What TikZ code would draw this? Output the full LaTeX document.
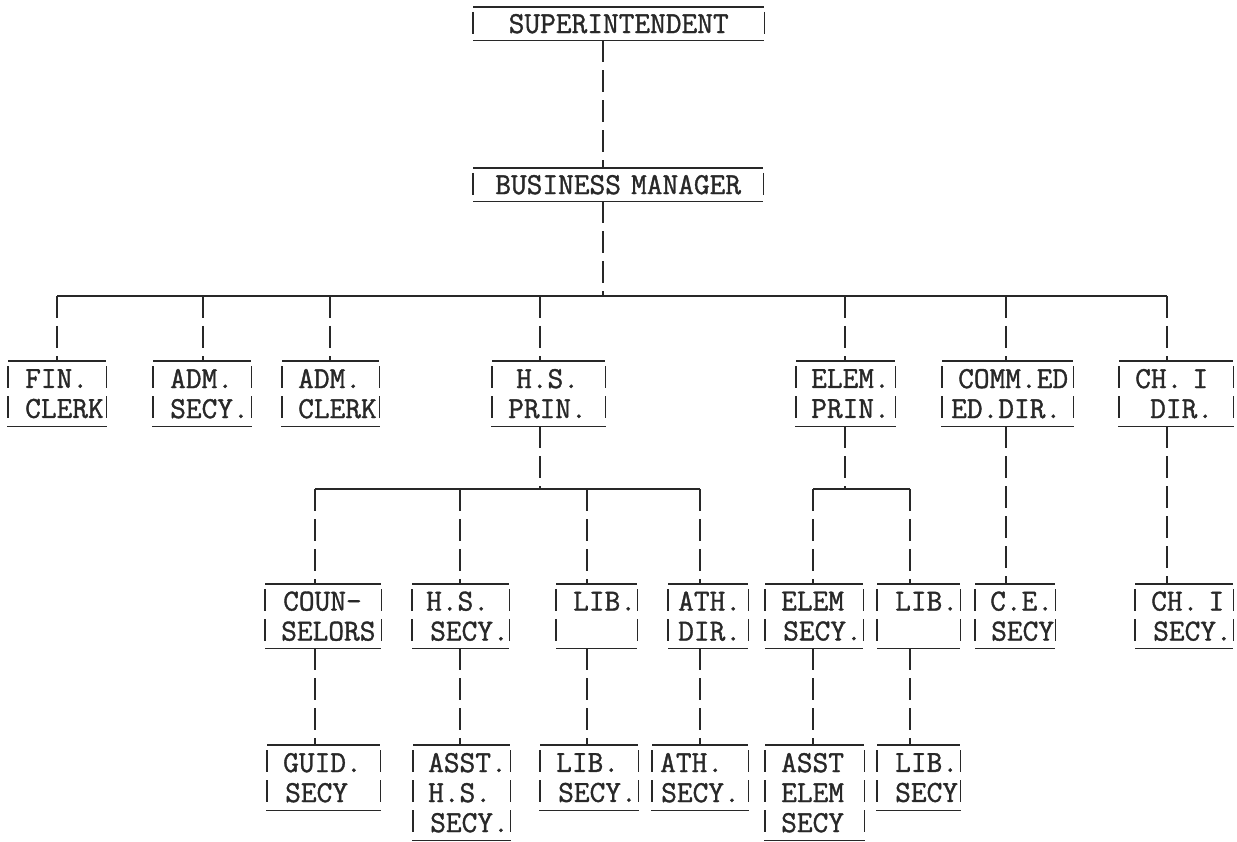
\documentclass[tikz,border=0pt]{standalone}
\usepackage{fontspec}
\newfontfamily\twfont{Latin Modern Mono}[FakeBold=1.2]
\definecolor{ink}{RGB}{40,40,40}
\newcommand\tind[1]{\hspace*{#1pt}}
\tikzset{
  hl/.style={draw=ink, solid, line width=1.5pt},
  vl/.style={draw=ink, line width=1.5pt, dash pattern=on 22pt off 8pt, dash phase=25pt},
  conn/.style={draw=ink, line width=1.5pt, dash pattern=on 22pt off 8pt},
  bx/.style={anchor=north west, inner sep=0pt, align=left, text=ink,
    font=\twfont\fontsize{30.5pt}{30pt}\selectfont,
    append after command={
      (\tikzlastnode.north west) edge[hl] (\tikzlastnode.north east)
      (\tikzlastnode.south west) edge[hl] (\tikzlastnode.south east)
      (\tikzlastnode.north west) edge[vl] (\tikzlastnode.south west)
      (\tikzlastnode.north east) edge[vl] (\tikzlastnode.south east)}},
  bxc/.style={bx, align=center},
}
\begin{document}
\begin{tikzpicture}[x=1pt,y=-1pt]
\fill[white] (0,0) rectangle (1237,842);
\useasboundingbox (0,0) rectangle (1237,842);
% level 1
\node[bxc, minimum width=291pt, minimum height=33pt, text width=291pt] (sup) at (473,7) {SUPERINTENDENT};
\node[bxc, minimum width=290pt, minimum height=33pt, text width=290pt] (bm) at (473,168) {BUSINESS~MANAGER};
% level 2
\node[bx, minimum width=98pt, minimum height=65pt, text width=98pt] (fin) at (8,361) {\tind{17}FIN.\\\tind{17}CLERK};
\node[bx, minimum width=98pt, minimum height=65pt, text width=98pt] (adms) at (153,361) {\tind{17}ADM.\\\tind{17}SECY.};
\node[bx, minimum width=97pt, minimum height=65pt, text width=97pt] (admc) at (282,361) {\tind{16}ADM.\\\tind{16}CLERK};
\node[bx, minimum width=113pt, minimum height=65pt, text width=113pt] (hsp) at (492,361) {\tind{24}H.S.\\\tind{16}PRIN.};
\node[bx, minimum width=99pt, minimum height=65pt, text width=99pt] (elp) at (796,361) {\tind{15}ELEM.\\\tind{15}PRIN.};
\node[bx, minimum width=131pt, minimum height=65pt, text width=131pt] (comm) at (942,361) {\tind{16}COMM.ED\\\tind{9}ED.DIR.};
\node[bx, minimum width=114pt, minimum height=65pt, text width=114pt] (ch1) at (1119,361) {\tind{16}CH.~I\\\tind{31}DIR.};
% level 3
\node[bx, minimum width=116pt, minimum height=64pt, text width=116pt] (couns) at (265,584) {\tind{18}COUN-\\\tind{16}SELORS};
\node[bx, minimum width=97pt, minimum height=64pt, text width=97pt] (hss) at (412,584) {\tind{14}H.S.\\\tind{18}SECY.};
\node[bx, minimum width=81pt, minimum height=64pt, text width=81pt] (lib1) at (556,584) {\tind{17}LIB.\\\mbox{}};
\node[bx, minimum width=80pt, minimum height=64pt, text width=80pt] (athd) at (668,584) {\tind{10}ATH.\\\tind{10}DIR.};
\node[bx, minimum width=98pt, minimum height=64pt, text width=98pt] (els) at (765,584) {\tind{16}ELEM\\\tind{18}SECY.};
\node[bx, minimum width=83pt, minimum height=64pt, text width=83pt] (lib2) at (877,584) {\tind{18}LIB.\\\mbox{}};
\node[bx, minimum width=80pt, minimum height=64pt, text width=80pt] (ces) at (975,584) {\tind{15}C.E.\\\tind{16}SECY};
\node[bx, minimum width=98pt, minimum height=64pt, text width=98pt] (ch1s) at (1135,584) {\tind{16}CH.~I\\\tind{18}SECY.};
% level 4
\node[bx, minimum width=113pt, minimum height=65pt, text width=113pt] (guid) at (267,745) {\tind{16}GUID.\\\tind{18}SECY};
\node[bx, minimum width=97pt, minimum height=95pt, text width=97pt] (ahs) at (413,745) {\tind{15}ASST.\\\tind{15}H.S.\\\tind{17}SECY.};
\node[bx, minimum width=98pt, minimum height=65pt, text width=98pt] (libs) at (540,745) {\tind{16}LIB.\\\tind{18}SECY.};
\node[bx, minimum width=96pt, minimum height=65pt, text width=96pt] (aths) at (652,745) {\tind{8}ATH.\\\tind{9}SECY.};
\node[bx, minimum width=99pt, minimum height=95pt, text width=99pt] (aes) at (765,745) {\tind{16}ASST\\\tind{16}ELEM\\\tind{16}SECY};
\node[bx, minimum width=83pt, minimum height=65pt, text width=83pt] (libs2) at (877,745) {\tind{18}LIB.\\\tind{18}SECY};
% connectors: top
\coordinate (m) at (603,296);
\draw[conn] (sup.south -| m) -- (bm.north -| m);
\draw[conn] (bm.south -| m) -- (m);
\coordinate (kfin) at (57,296);
\coordinate (kadms) at (203,296);
\coordinate (kadmc) at (330,296);
\coordinate (khsp) at (540,296);
\coordinate (kelp) at (845,296);
\coordinate (kcomm) at (1006,296);
\coordinate (kch1) at (1167,296);
\draw[hl] (kfin) -- (kch1);
\foreach \n in {fin,adms,admc,hsp,elp,comm,ch1} \draw[conn] (k\n) -- (\n.north -| k\n);
% H.S. branch
\coordinate (hbus) at (540,489);
\coordinate (kcouns) at (315,489);
\coordinate (khss) at (460,489);
\coordinate (klib1) at (587,489);
\coordinate (kathd) at (700,489);
\draw[conn] (hsp.south -| hbus) -- (hbus);
\draw[hl] (kcouns) -- (kathd);
\foreach \n in {couns,hss,lib1,athd} \draw[conn] (k\n) -- (\n.north -| k\n);
% ELEM branch
\coordinate (ebus) at (845,489);
\coordinate (kels) at (813,489);
\coordinate (klib2) at (910,489);
\draw[conn] (elp.south -| ebus) -- (ebus);
\draw[hl] (kels) -- (klib2);
\foreach \n in {els,lib2} \draw[conn] (k\n) -- (\n.north -| k\n);
% single chains
\draw[conn] (comm.south -| kcomm) -- (ces.north -| kcomm);
\draw[conn] (ch1.south -| kch1) -- (ch1s.north -| kch1);
\draw[conn] (couns.south -| kcouns) -- (guid.north -| kcouns);
\draw[conn] (hss.south -| khss) -- (ahs.north -| khss);
\draw[conn] (lib1.south -| klib1) -- (libs.north -| klib1);
\draw[conn] (athd.south -| kathd) -- (aths.north -| kathd);
\draw[conn] (els.south -| kels) -- (aes.north -| kels);
\draw[conn] (lib2.south -| klib2) -- (libs2.north -| klib2);
\end{tikzpicture}
\end{document}
